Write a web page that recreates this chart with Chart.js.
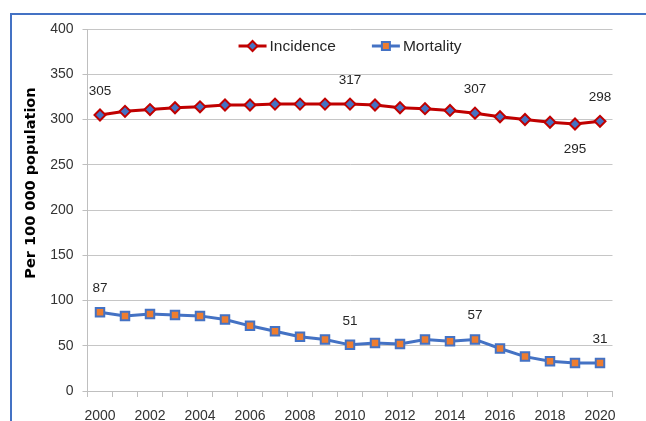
<!DOCTYPE html>
<html>
<head>
<meta charset="utf-8">
<script src="https://cdn.jsdelivr.net/npm/chart.js@4/dist/chart.umd.min.js"></script>
<style>
  html, body { margin: 0; padding: 0; background: #fff; }
  canvas { display: block; }
</style>
</head>
<body>
<canvas id="c" width="646" height="421"></canvas>
<script>
// ---- data ----
const years = ['2000','2001','2002','2003','2004','2005','2006','2007','2008','2009','2010',
               '2011','2012','2013','2014','2015','2016','2017','2018','2019','2020'];
const incidence = [305,309,311,313,314,316,316,317,317,317,317,316,313,312,310,307,303,300,297,295,298];
const mortality = [87,83,85,84,83,79,72,66,60,57,51,53,52,57,55,57,47,38,33,31,31];
const yTicks = [0,50,100,150,200,250,300,350,400];
const seriesNames = ['Incidence','Mortality'];
const yTitle = 'Per 100 000 population';
// which points carry a value label, and where
const incidenceLabels = [[0,'above'],[10,'above'],[15,'above'],[19,'below'],[20,'above']];
const mortalityLabels = [[0,'above'],[10,'above'],[15,'above'],[20,'above']];

const RED = '#C00000', BLUE = '#4472C4', ORANGE = '#ED7D31';
const TXT = '#333333';
const FONT = '"Liberation Sans", Arial, sans-serif';

const framePlugin = {
  id: 'frame',
  beforeDraw(chart) {
    const ctx = chart.ctx;
    ctx.save();
    ctx.fillStyle = '#fff';
    ctx.fillRect(0, 0, chart.width, chart.height);
    ctx.strokeStyle = BLUE;
    ctx.lineWidth = 2;
    ctx.strokeRect(11, 14, chart.width + 20, chart.height + 20);
    ctx.restore();
  }
};

const labelPlugin = {
  id: 'valueLabels',
  afterDatasetsDraw(chart) {
    const ctx = chart.ctx;
    ctx.save();
    ctx.font = '13.5px ' + FONT;
    ctx.fillStyle = '#262626';
    ctx.textAlign = 'center';
    ctx.textBaseline = 'middle';
    [[0, incidenceLabels], [1, mortalityLabels]].forEach(([di, list]) => {
      const meta = chart.getDatasetMeta(di);
      const data = chart.data.datasets[di].data;
      list.forEach(([i, pos]) => {
        const p = meta.data[i];
        ctx.fillText(String(data[i]), p.x, pos === 'above' ? p.y - 24 : p.y + 25);
      });
    });
    ctx.restore();
  },
  afterDraw(chart) {
    const ctx = chart.ctx;
    const area = chart.chartArea;
    ctx.save();
    // y axis title
    ctx.font = 'bold 14.5px "DejaVu Sans", sans-serif';
    ctx.fillStyle = '#000';
    ctx.textAlign = 'center';
    ctx.textBaseline = 'middle';
    ctx.translate(31, 183);
    ctx.rotate(-Math.PI / 2);
    ctx.fillText(yTitle, 0, 0);
    ctx.restore();

    // legend
    ctx.save();
    ctx.font = '15.5px ' + FONT;
    ctx.textBaseline = 'middle';
    ctx.textAlign = 'left';
    const lineW = 28, gap = 3, between = 36;
    const w0 = ctx.measureText(seriesNames[0]).width;
    const w1 = ctx.measureText(seriesNames[1]).width;
    const total = lineW + gap + w0 + between + lineW + gap + w1;
    let x = (area.left + area.right) / 2 - total / 2;
    const y = 46;
    const ds = chart.data.datasets;
    [0, 1].forEach(k => {
      const d = ds[k];
      ctx.strokeStyle = d.borderColor;
      ctx.lineWidth = 3;
      ctx.beginPath();
      ctx.moveTo(x, y);
      ctx.lineTo(x + lineW, y);
      ctx.stroke();
      const cx = x + lineW / 2;
      ctx.fillStyle = d.pointBackgroundColor;
      ctx.strokeStyle = d.pointBorderColor;
      ctx.lineWidth = 2;
      ctx.beginPath();
      if (k === 0) {
        const r = 5;
        ctx.moveTo(cx, y - r); ctx.lineTo(cx + r, y); ctx.lineTo(cx, y + r); ctx.lineTo(cx - r, y); ctx.closePath();
      } else {
        const s = 4;
        ctx.rect(cx - s, y - s, 2 * s, 2 * s);
      }
      ctx.fill();
      ctx.stroke();
      ctx.fillStyle = '#262626';
      ctx.fillText(seriesNames[k], x + lineW + gap, y + 1);
      x += lineW + gap + (k === 0 ? w0 : w1) + between;
    });
    ctx.restore();
  }
};

new Chart(document.getElementById('c'), {
  type: 'line',
  data: {
    labels: years,
    datasets: [
      {
        label: seriesNames[0], data: incidence,
        borderColor: RED, borderWidth: 3, tension: 0,
        pointStyle: 'rectRot', pointRadius: 5.5, pointBorderWidth: 2,
        pointBackgroundColor: BLUE, pointBorderColor: RED
      },
      {
        label: seriesNames[1], data: mortality,
        borderColor: BLUE, borderWidth: 3, tension: 0,
        pointStyle: 'rect', pointRadius: 6, pointBorderWidth: 2,
        pointBackgroundColor: ORANGE, pointBorderColor: BLUE
      }
    ]
  },
  options: {
    responsive: false,
    animation: false,
    events: [],
    layout: { padding: { left: 0, top: 29, right: 33.5, bottom: 0 } },
    plugins: { legend: { display: false }, tooltip: { enabled: false } },
    scales: {
      x: {
        offset: true,
        grid: { offset: true, drawOnChartArea: false, drawTicks: true, tickLength: 6, tickColor: '#bfbfbf' },
        border: { color: '#bfbfbf', width: 1 },
        ticks: {
          autoSkip: false, maxRotation: 0, padding: 11,
          font: { family: FONT, size: 14 }, color: TXT,
          callback: (v, i) => (i % 2 === 0 ? years[i] : '')
        },
        afterFit: s => { s.height = 30; }
      },
      y: {
        min: yTicks[0], max: yTicks[yTicks.length - 1],
        afterBuildTicks: s => { s.ticks = yTicks.map(v => ({ value: v })); },
        grid: { color: '#c6c6c6', drawTicks: true, tickLength: 5, tickColor: '#bfbfbf' },
        border: { color: '#bfbfbf', width: 1 },
        ticks: { padding: 9, font: { family: FONT, size: 14 }, color: TXT },
        afterFit: s => { s.width = 87.5; }
      }
    }
  },
  plugins: [framePlugin, labelPlugin]
});
</script>
</body>
</html>
